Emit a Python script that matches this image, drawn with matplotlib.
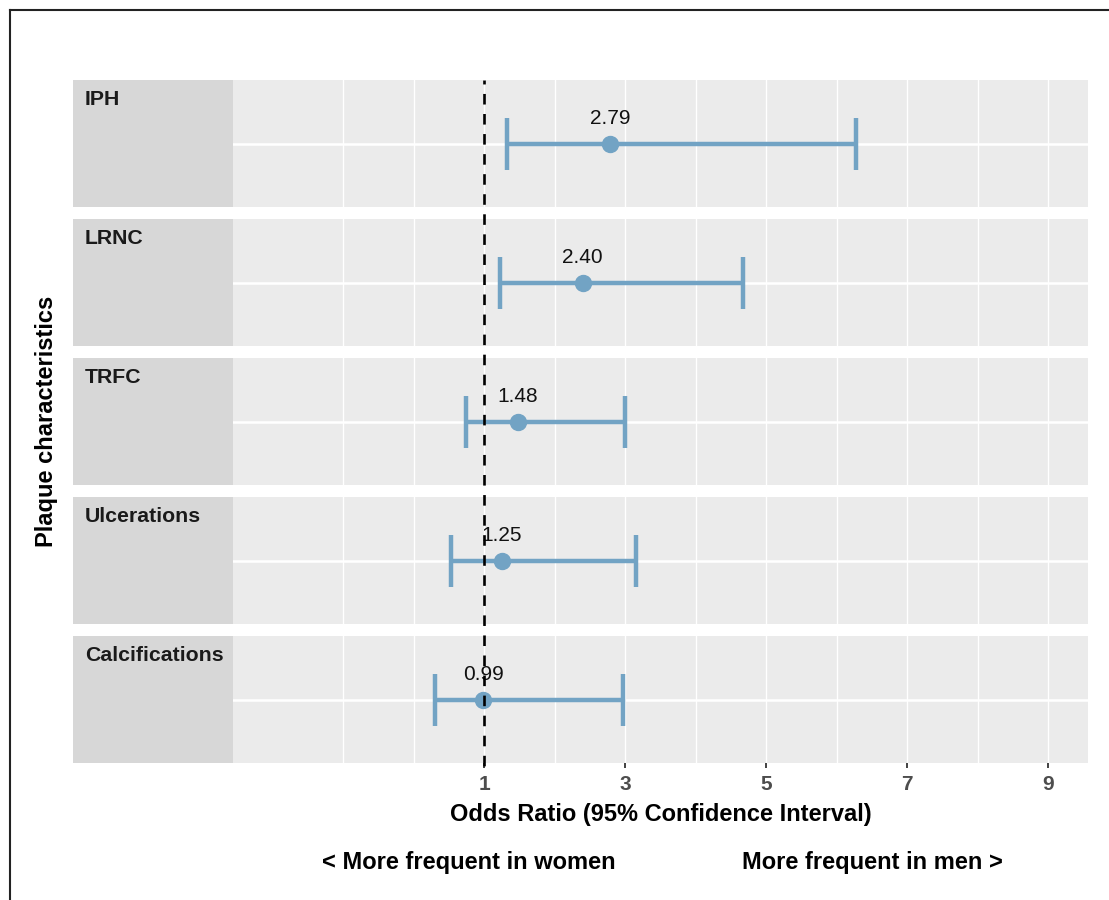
import matplotlib
matplotlib.use('Agg')
import matplotlib.pyplot as plt
from matplotlib.patches import Rectangle
from matplotlib.lines import Line2D
from matplotlib.transforms import blended_transform_factory

plt.rcParams['font.family'] = ['Liberation Sans', 'DejaVu Sans']

# ── data ──────────────────────────────────────────────────────────────────────
features = ['IPH', 'LRNC', 'TRFC', 'Ulcerations', 'Calcifications']
odds_ratio = [2.79, 2.40, 1.48, 1.25, 0.99]
ci_low = [1.32, 1.22, 0.74, 0.53, 0.31]
ci_high = [6.27, 4.67, 3.00, 3.15, 2.97]
x_ticks = [1, 3, 5, 7, 9]
x_grid = list(range(-1, 10))

# ── layout (pixels) ───────────────────────────────────────────────────────────
W, H = 1109, 900
PX_PER_UNIT = 70.5
X_ONE_PX = 484
STRIP_L, PANEL_L, PANEL_R = 73, 233, 1088
PANEL_TOP, PANEL_H, GAP = 80, 127, 12.1

POINT_C = '#72a3c4'
PANEL_BG = '#ebebeb'
STRIP_BG = '#d7d7d7'
FS_BIG = 17        # axis titles / annotations
FS_STRIP = 15.3
FS_VAL = 15
FS_TICK = 15

fig = plt.figure(figsize=(W / 100, H / 100), dpi=100)
fig.patch.set_facecolor('white')

xmin = 1 + (PANEL_L - X_ONE_PX) / PX_PER_UNIT
xmax = 1 + (PANEL_R - X_ONE_PX) / PX_PER_UNIT

axes = []
for i, name in enumerate(features):
    top = PANEL_TOP + i * (PANEL_H + GAP)
    bottom = top + PANEL_H
    ax = fig.add_axes([PANEL_L / W, 1 - bottom / H,
                       (PANEL_R - PANEL_L) / W, PANEL_H / H])
    ax.set_facecolor(PANEL_BG)
    ax.set_xlim(xmin, xmax)
    ax.set_ylim(-1, 1)
    for s in ax.spines.values():
        s.set_visible(False)
    for g in x_grid:
        ax.axvline(g, color='white', lw=1.0, zorder=0)
    ax.axhline(0, color='white', lw=1.8, zorder=0)

    # error bar + point
    ax.errorbar([odds_ratio[i]], [0],
                xerr=[[odds_ratio[i] - ci_low[i]], [ci_high[i] - odds_ratio[i]]],
                fmt='o', color=POINT_C, ms=11.5, elinewidth=3.2,
                capsize=19, capthick=3.2, zorder=3)
    ax.annotate(f'{odds_ratio[i]:.2f}', xy=(odds_ratio[i], 0),
                xytext=(0, 18), textcoords='offset points',
                ha='center', va='center', fontsize=FS_VAL, color='#111', zorder=4)

    ax.set_yticks([])
    if i == len(features) - 1:
        ax.set_xticks(x_ticks)
        ax.tick_params(axis='x', length=3.5, width=1.3, color='#333',
                       labelsize=FS_TICK, labelcolor='#4d4d4d', pad=5)
        for lab in ax.get_xticklabels():
            lab.set_fontweight('bold')
        ax.set_xlabel('Odds Ratio (95% Confidence Interval)', fontsize=FS_BIG,
                      fontweight='bold', color='black', labelpad=6)
    else:
        ax.set_xticks([])

    # strip on the left
    fig.patches.append(Rectangle((STRIP_L / W, 1 - bottom / H),
                                 (PANEL_L - STRIP_L) / W, PANEL_H / H,
                                 transform=fig.transFigure,
                                 facecolor=STRIP_BG, edgecolor='none', zorder=1))
    fig.text((STRIP_L + 12) / W, 1 - (top + 10) / H, name, ha='left', va='top',
             fontsize=FS_STRIP, fontweight='bold', color='#1a1a1a')
    axes.append(ax)

# dashed reference line at OR = 1 across all panels
last_bottom = PANEL_TOP + len(features) * PANEL_H + (len(features) - 1) * GAP
tr = blended_transform_factory(axes[0].transData, fig.transFigure)
fig.lines.append(Line2D([1, 1], [1 - PANEL_TOP / H, 1 - (last_bottom + 5) / H],
                        transform=tr, color='black', lw=1.9,
                        linestyle=(2.5, (4.0, 3.6)), zorder=5))

# y label
fig.text(47 / W, 1 - (PANEL_TOP + last_bottom) / 2 / H, 'Plaque characteristics',
         rotation=90, ha='center', va='center', fontsize=FS_BIG,
         fontweight='bold', color='black')

# direction annotations
fig.text(469 / W, 1 - 863 / H, '< More frequent in women', ha='center',
         va='center', fontsize=FS_BIG, fontweight='bold', color='black')
fig.text(872 / W, 1 - 863 / H, 'More frequent in men >', ha='center',
         va='center', fontsize=FS_BIG, fontweight='bold', color='black')

# outer frame
fig.lines.append(Line2D([10 / W, 1], [1 - 10 / H, 1 - 10 / H],
                        transform=fig.transFigure, color='#222', lw=1.5))
fig.lines.append(Line2D([10 / W, 10 / W], [1 - 10 / H, 0],
                        transform=fig.transFigure, color='#222', lw=1.5))

fig.savefig('out.png', dpi=100, facecolor='white')
plt.close(fig)
